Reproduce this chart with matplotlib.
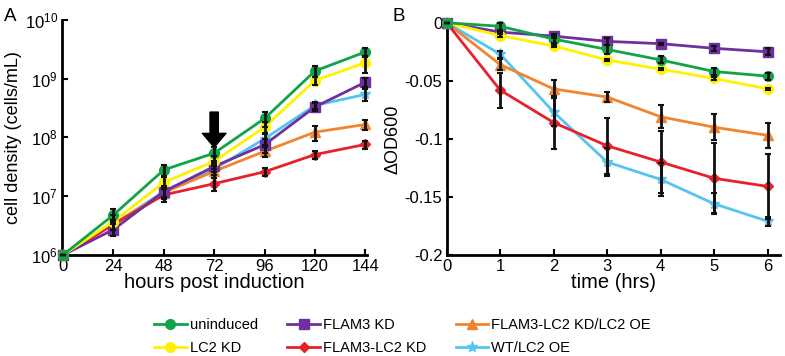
import matplotlib
matplotlib.use("Agg")
import matplotlib.pyplot as plt
import numpy as np

plt.rcParams['font.family'] = ['Liberation Sans', 'DejaVu Sans']
plt.rcParams['mathtext.fontset'] = 'custom'
plt.rcParams['mathtext.rm'] = 'Liberation Sans'

# panel A: growth curves
hours = [0, 24, 48, 72, 96, 120, 144]
a_uninduced = [1e6, 4.8e6, 2.8e7, 5.4e7, 2.1e8, 1.35e9, 2.85e9]
a_lc2 = [1e6, 3.7e6, 1.72e7, 3.9e7, 1.5e8, 9.3e8, 1.87e9]
a_flam3 = [1e6, 2.7e6, 1.2e7, 3.2e7, 7.5e7, 3.3e8, 8.7e8]
a_flam3_lc2 = [1e6, 3.3e6, 1.05e7, 1.63e7, 2.6e7, 5.1e7, 7.6e7]
a_rescue = [1e6, 3.3e6, 1.15e7, 2.65e7, 5.8e7, 1.23e8, 1.66e8]
a_wt_oe = [1e6, 3.3e6, 1.2e7, 2.9e7, 9.5e7, 3.5e8, 5.4e8]

a_uninduced_err = [0, 1.2e6, 6e6, 1.4e7, 6e7, 3e8, 5e8]
a_lc2_err = [0, 1.0e6, 4e6, 1.0e7, 3e7, 1.5e8, 6e8]
a_flam3_err = [0, 0.6e6, 3e6, 6e6, 2e7, 5e7, 1.5e8]
a_flam3_lc2_err = [0, 0.6e6, 2.5e6, 4e6, 4e6, 8e6, 1.2e7]
a_rescue_err = [0, 0.6e6, 2.5e6, 6e6, 1.2e7, 3.5e7, 3e7]
a_wt_oe_err = [0, 0.6e6, 2.5e6, 6e6, 2e7, 5e7, 1.2e8]

# panel B: change in OD600
time_hrs = [0, 1, 2, 3, 4, 5, 6]
b_uninduced = [0, -0.003, -0.014, -0.023, -0.032, -0.042, -0.046]
b_lc2 = [0, -0.011, -0.020, -0.032, -0.040, -0.048, -0.057]
b_flam3 = [0, -0.008, -0.0115, -0.016, -0.018, -0.022, -0.025]
b_flam3_lc2 = [0, -0.058, -0.086, -0.106, -0.120, -0.134, -0.141]
b_rescue = [0, -0.036, -0.057, -0.064, -0.081, -0.090, -0.097]
b_wt_oe = [0, -0.027, -0.077, -0.120, -0.135, -0.156, -0.171]

b_uninduced_err = [0, 0.003, 0.003, 0.004, 0.003, 0.003, 0.003]
b_lc2_err = [0, 0.001, 0.001, 0.001, 0.001, 0.001, 0.001]
b_flam3_err = [0, 0.001, 0.002, 0.003, 0.001, 0.002, 0.003]
b_flam3_lc2_err = [0, 0.015, 0.023, 0.024, 0.027, 0.030, 0.028]
b_rescue_err = [0, 0.005, 0.008, 0.004, 0.010, 0.011, 0.011]
b_wt_oe_err = [0, 0.003, 0.012, 0.012, 0.014, 0.009, 0.004]

labels = ["uninduced", "LC2 KD", "FLAM3 KD", "FLAM3-LC2 KD",
          "FLAM3-LC2 KD/LC2 OE", "WT/LC2 OE"]
colors = ["#12a34a", "#fff200", "#6f2f9f", "#e8202a", "#f0852d", "#55c4f0"]
markers = ["o", "o", "s", "D", "^", "*"]
msizes = [7, 7, 7, 5.5, 7, 8]

a_data = [(a_uninduced, a_uninduced_err), (a_lc2, a_lc2_err), (a_flam3, a_flam3_err),
          (a_flam3_lc2, a_flam3_lc2_err), (a_rescue, a_rescue_err), (a_wt_oe, a_wt_oe_err)]
b_data = [(b_uninduced, b_uninduced_err), (b_lc2, b_lc2_err), (b_flam3, b_flam3_err),
          (b_flam3_lc2, b_flam3_lc2_err), (b_rescue, b_rescue_err), (b_wt_oe, b_wt_oe_err)]

fig = plt.figure(figsize=(7.85, 3.56), dpi=100)
axA = fig.add_axes([0.079, 0.284, 0.389, 0.660])
axB = fig.add_axes([0.569, 0.284, 0.424, 0.652])

# draw order: keep green on top like the reference
order = [5, 4, 3, 2, 1, 0]
handles = {}
for i in order:
    y, e = a_data[i]
    h, = axA.plot(hours, y, color=colors[i], marker=markers[i], ms=msizes[i], lw=2,
                  mec=colors[i], clip_on=False, zorder=3)
    handles[i] = h
    axA.errorbar(hours, y, yerr=e, fmt="none", ecolor="#111111", elinewidth=2,
                 capsize=2.5, capthick=1.5, zorder=4, clip_on=False)
    yb, eb = b_data[i]
    axB.plot(time_hrs, yb, color=colors[i], marker=markers[i], ms=msizes[i], lw=2,
             mec=colors[i], clip_on=False, zorder=3)
    axB.errorbar(time_hrs, yb, yerr=eb, fmt="none", ecolor="#111111", elinewidth=2,
                 capsize=2.5, capthick=1.5, zorder=4, clip_on=False)

axA.set_yscale("log")
axA.set_ylim(1e6, 1e10)
axA.set_xlim(-0.5, 145)
axA.set_xticks(hours)
axA.set_yticks([1e6, 1e7, 1e8, 1e9, 1e10])
axA.minorticks_off()
axA.set_xlabel("hours post induction", fontsize=14.5, labelpad=-1)
axA.set_ylabel("cell density (cells/mL)", fontsize=13, labelpad=2)
axA.annotate("", xy=(72, 6.8e7), xytext=(72, 2.7e8),
             arrowprops=dict(facecolor="black", edgecolor="black", width=6,
                             headwidth=17, headlength=10))

axB.set_xlim(0, 6.22)
axB.set_ylim(-0.2, 0)
axB.set_xticks(time_hrs)
axB.set_yticks([-0.2, -0.15, -0.1, -0.05, 0])
axB.set_yticklabels(["-0.2", "-0.15", "-0.1", "-0.05", "0"])
axB.set_xlabel("time (hrs)", fontsize=14.5, labelpad=-1)
axB.set_ylabel("\u0394OD600", fontsize=13, labelpad=2)

for ax in (axA, axB):
    for s in ("top", "right"):
        ax.spines[s].set_visible(False)
    for s in ("left", "bottom"):
        ax.spines[s].set_linewidth(2)
    ax.tick_params(direction="in", length=4, width=1.5, labelsize=12, pad=3)

fig.text(0.005, 0.942, "A", fontsize=13.5)
fig.text(0.5, 0.942, "B", fontsize=13.5)

fig.legend([handles[i] for i in range(6)], labels, loc="lower center",
           bbox_to_anchor=(0.513, -0.035), ncol=3, frameon=False, fontsize=10.5,
           handlelength=2.2, columnspacing=2.0, handletextpad=0.25, labelspacing=0.65)

fig.savefig("out.png", dpi=100)
